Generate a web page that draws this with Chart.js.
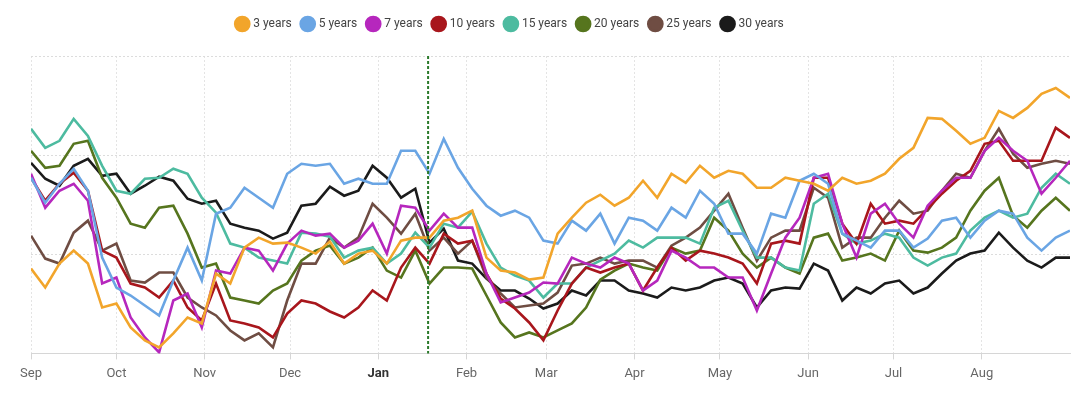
<!DOCTYPE html>
<html>
<head>
<meta charset="utf-8">
<script src="https://cdn.jsdelivr.net/npm/chart.js@4"></script>
<style>
html, body { margin: 0; padding: 0; background: #fff; }
</style>
</head>
<body>
<canvas id="myChart" width="1091" height="396"></canvas>
<script>
// day index counted from Sep 1
const days = [0, 5, 10, 15, 20, 25, 30, 35, 40, 45, 50, 55, 60, 65, 70, 75, 80, 85, 90, 95,
    100, 105, 110, 115, 120, 125, 130, 135, 140, 145, 150, 155, 160, 165, 170, 175, 180, 185, 190, 195,
    200, 205, 210, 215, 220, 225, 230, 235, 240, 245, 250, 255, 260, 265, 270, 275, 280, 285, 290, 295,
    300, 305, 310, 315, 320, 325, 330, 335, 340, 345, 350, 355, 360, 365];

const monthStarts = [0, 30, 61, 91, 122, 153, 181, 212, 242, 273, 303, 334];
const monthLabels = ["Sep", "Oct", "Nov", "Dec", "Jan", "Feb", "Mar", "Apr", "May", "Jun", "Jul", "Aug"];
const boldMonth = "Jan";
const markerDay = 139.5;

const seriesNames = ["3 years", "5 years", "7 years", "10 years", "15 years", "20 years", "25 years", "30 years"];

const y3 = [85, 66, 90, 103, 90, 46, 50, 26, 13, 6, 20, 36, 30, 80, 70, 106, 116, 110, 111, 106,
    100, 112, 90, 100, 103, 90, 113, 116, 116, 133, 136, 143, 96, 83, 81, 74, 76, 120, 136, 151,
    159, 148, 156, 173, 156, 180, 171, 188, 176, 183, 180, 166, 166, 176, 173, 170, 163, 176, 170, 173,
    180, 195, 206, 236, 235, 223, 210, 216, 243, 236, 246, 260, 266, 256];
const y5 = [176, 151, 170, 185, 163, 96, 66, 58, 48, 38, 73, 106, 73, 140, 146, 166, 156, 146, 180, 190,
    188, 190, 170, 175, 170, 170, 203, 203, 180, 215, 186, 165, 148, 138, 143, 136, 113, 110, 133, 123,
    140, 110, 136, 133, 123, 146, 136, 163, 150, 120, 120, 100, 140, 136, 173, 180, 170, 120, 113, 106,
    123, 123, 106, 115, 133, 136, 116, 133, 143, 140, 116, 103, 116, 123];
const y7 = [180, 146, 163, 170, 153, 70, 76, 36, 16, 1, 53, 60, 26, 83, 80, 106, 103, 83, 110, 123,
    118, 120, 106, 113, 130, 100, 148, 146, 123, 140, 126, 126, 80, 51, 56, 61, 71, 70, 96, 90,
    86, 96, 90, 63, 73, 103, 96, 86, 86, 76, 76, 43, 80, 116, 136, 176, 180, 130, 96, 140,
    150, 130, 116, 148, 163, 176, 176, 203, 216, 203, 193, 160, 176, 193];
const y10 = [176, 153, 170, 181, 163, 103, 96, 70, 66, 56, 73, 46, 33, 70, 33, 30, 26, 16, 40, 53,
    50, 42, 36, 46, 63, 53, 86, 106, 90, 120, 110, 113, 80, 55, 45, 31, 13, 43, 70, 86,
    81, 86, 90, 63, 86, 106, 93, 103, 100, 96, 90, 70, 110, 113, 110, 176, 176, 130, 110, 150,
    130, 133, 130, 145, 160, 173, 183, 210, 213, 193, 193, 193, 226, 216];
const y15 = [225, 206, 213, 235, 218, 188, 163, 160, 175, 176, 185, 180, 156, 141, 110, 106, 96, 93, 90, 121,
    120, 117, 96, 103, 106, 90, 100, 121, 106, 130, 126, 142, 110, 86, 78, 73, 56, 70, 70, 86,
    93, 100, 113, 106, 116, 116, 116, 110, 146, 153, 123, 96, 96, 86, 83, 150, 160, 120, 110, 113,
    120, 116, 96, 88, 96, 100, 123, 136, 143, 136, 140, 166, 180, 170];
const y20 = [203, 186, 188, 210, 213, 176, 156, 130, 126, 146, 148, 120, 86, 90, 56, 53, 50, 63, 70, 93,
    103, 108, 90, 96, 106, 83, 76, 103, 70, 86, 86, 85, 58, 31, 16, 21, 16, 23, 30, 46,
    74, 83, 90, 86, 83, 106, 100, 103, 136, 123, 100, 86, 96, 86, 80, 116, 120, 93, 96, 100,
    93, 123, 103, 101, 106, 116, 143, 163, 176, 138, 126, 143, 156, 143];
const y25 = [118, 95, 90, 121, 133, 103, 110, 73, 71, 81, 81, 56, 46, 38, 23, 13, 20, 6, 53, 90,
    90, 116, 106, 116, 150, 136, 120, 140, 103, 116, 100, 113, 76, 60, 46, 48, 50, 61, 88, 90,
    96, 90, 93, 93, 86, 108, 116, 126, 143, 160, 126, 93, 116, 123, 123, 166, 156, 106, 116, 116,
    136, 153, 140, 143, 163, 180, 176, 203, 225, 200, 186, 190, 193, 190];
const y30 = [191, 175, 168, 188, 195, 178, 180, 160, 168, 177, 173, 155, 150, 153, 130, 126, 123, 115, 121, 148,
    150, 167, 158, 163, 188, 176, 156, 165, 111, 125, 93, 90, 75, 63, 63, 55, 45, 50, 63, 58,
    73, 73, 63, 60, 56, 66, 63, 66, 73, 76, 70, 46, 63, 66, 65, 90, 83, 53, 66, 60,
    70, 73, 60, 66, 80, 93, 100, 103, 121, 106, 93, 86, 96, 96];

const seriesValues = [y3, y5, y7, y10, y15, y20, y25, y30];
const colors = ["#f2a52b", "#6aa5e4", "#b627bd", "#a8161c", "#4dbba0", "#56751e", "#6f4d43", "#1b1b1b"];

function buildDatasets()
{
    return seriesNames.map((name, i) =>
    {
        return {
            label: name,
            data: days.map((d, j) => ({ x: d, y: seriesValues[i][j] })),
            borderColor: colors[i],
            backgroundColor: colors[i],
            borderWidth: 2.6,
            pointRadius: 0,
            tension: 0
        };
    });
}

// dotted green line marking the date
const markerLine = {
    id: "markerLine",
    afterDatasetsDraw(chart)
    {
        const ctx = chart.ctx;
        const x = chart.scales.x.getPixelForValue(markerDay);
        ctx.save();
        ctx.strokeStyle = "#2b7a2b";
        ctx.lineWidth = 2;
        ctx.setLineDash([3, 2]);
        ctx.beginPath();
        ctx.moveTo(x, chart.chartArea.top);
        ctx.lineTo(x, chart.chartArea.bottom);
        ctx.stroke();
        ctx.restore();
    }
};

// room under the legend, and legend nudged left like the original
const legendSpace = {
    id: "legendSpace",
    beforeInit(chart)
    {
        const fit = chart.legend.fit;
        chart.legend.fit = function ()
        {
            fit.call(this);
            this.height += 16;
        };
    },
    afterLayout(chart)
    {
        chart.legend.left -= 40;
        chart.legend.right -= 40;
    }
};

function createGraph()
{
    const ctx = document.getElementById("myChart");
    new Chart(ctx,
    {
        type: "line",
        data: { datasets: buildDatasets() },
        options: {
            responsive: false,
            animation: false,
            devicePixelRatio: 1,
            layout: { padding: { left: 31, right: 21, top: 7, bottom: 7 } },
            plugins: {
                tooltip: { enabled: false },
                legend: {
                    position: "top",
                    labels: {
                        usePointStyle: true,
                        pointStyle: "circle",
                        boxWidth: 10,
                        boxHeight: 10,
                        padding: 11,
                        color: "#444",
                        font: { family: "Roboto", size: 12 }
                    }
                }
            },
            scales: {
                x: {
                    type: "linear",
                    min: 0,
                    max: 365,
                    afterBuildTicks: (axis) =>
                    {
                        axis.ticks = monthStarts.map(v => ({ value: v }));
                    },
                    ticks: {
                        autoSkip: false,
                        maxRotation: 0,
                        padding: 7,
                        color: (c) => monthLabels[monthStarts.indexOf(c.tick.value)] === boldMonth ? "#333" : "#666",
                        font: (c) => ({
                            family: "Roboto",
                            size: 13,
                            weight: c.tick && monthLabels[monthStarts.indexOf(c.tick.value)] === boldMonth ? "bold" : "normal"
                        }),
                        callback: (v) => monthLabels[monthStarts.indexOf(v)]
                    },
                    grid: { color: "#e4e4e4", tickLength: 6, tickColor: "#d6d6d6" },
                    border: { display: true, color: "#d6d6d6", width: 1, dash: [2, 2] }
                },
                y: {
                    min: 0,
                    max: 298,
                    afterBuildTicks: (axis) =>
                    {
                        axis.ticks = [0, 99.33, 198.67, 298].map(v => ({ value: v }));
                    },
                    ticks: { display: false },
                    grid: { color: "#dcdcdc", drawTicks: false },
                    border: { display: false, dash: [2, 2] }
                }
            }
        },
        plugins: [markerLine, legendSpace]
    });
}

createGraph();
</script>
</body>
</html>
